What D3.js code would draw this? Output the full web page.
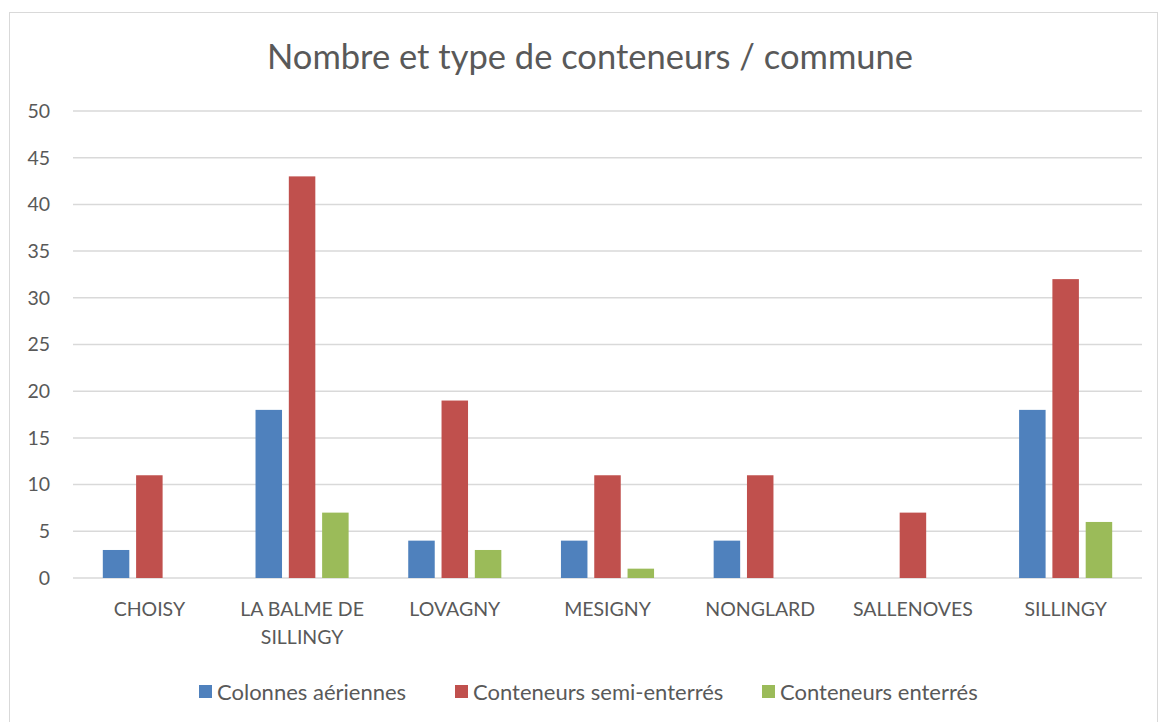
<!DOCTYPE html>
<html>
<head>
<meta charset="utf-8">
<script src="https://cdn.jsdelivr.net/npm/d3@7"></script>
<style>
  body { margin: 0; background: #fff; }
  text { font-family: Lato, "Open Sans", sans-serif; fill: #595959; }
</style>
</head>
<body>
<svg width="1160" height="722"></svg>
<script>
var communes = ["CHOISY", "LA BALME DE SILLINGY", "LOVAGNY", "MESIGNY", "NONGLARD", "SALLENOVES", "SILLINGY"];
var seriesNames = ["Colonnes aériennes", "Conteneurs semi-enterrés", "Conteneurs enterrés"];
var colonnes = [3, 18, 4, 4, 4, 0, 18];
var semiEnterres = [11, 43, 19, 11, 11, 7, 32];
var enterres = [0, 7, 3, 1, 0, 0, 6];
var colors = ["#4f81bd", "#c0504d", "#9bbb59"];
var yTicks = d3.range(0, 51, 5);

var values = [colonnes, semiEnterres, enterres];

var svg = d3.select("svg"),
    margin = {top: 111, right: 18, bottom: 144, left: 73},
    width = +svg.attr("width") - margin.left - margin.right,
    height = +svg.attr("height") - margin.top - margin.bottom;

// chart border
svg.append("rect")
    .attr("x", 9.5).attr("y", 12.5)
    .attr("width", 1148).attr("height", 720)
    .attr("fill", "none").attr("stroke", "#d9d9d9");

svg.append("text")
    .attr("x", 590).attr("y", 69)
    .attr("text-anchor", "middle")
    .style("font-size", "34.5px")
    .text("Nombre et type de conteneurs / commune");

var g = svg.append("g").attr("transform", "translate(" + margin.left + "," + margin.top + ")");

var x = d3.scaleBand().domain(communes).range([0, width]);
var y = d3.scaleLinear().domain([0, 50]).range([height, 0]);

var barW = 26.5, step = 33.3;

g.append("g")
  .selectAll("line")
  .data(yTicks)
  .enter().append("line")
    .attr("x1", 0).attr("x2", width)
    .attr("y1", function(d) { return y(d); })
    .attr("y2", function(d) { return y(d); })
    .attr("stroke", "#d9d9d9")
    .attr("stroke-width", 1.5);

g.append("g")
  .selectAll("text")
  .data(yTicks)
  .enter().append("text")
    .attr("x", -23)
    .attr("y", function(d) { return y(d); })
    .attr("dy", "0.35em")
    .attr("text-anchor", "end")
    .style("font-size", "19.5px")
    .text(function(d) { return d; });

values.forEach(function(vals, s) {
  g.append("g")
    .selectAll("rect")
    .data(vals)
    .enter().append("rect")
      .attr("x", function(d, i) { return x(communes[i]) + x.bandwidth() / 2 + (s - 1) * step - barW / 2; })
      .attr("y", function(d) { return y(d); })
      .attr("width", barW)
      .attr("height", function(d) { return height - y(d); })
      .attr("fill", colors[s]);
});

// category labels, wrapped like the original
var labels = g.append("g")
  .selectAll("text")
  .data(communes)
  .enter().append("text")
    .attr("text-anchor", "middle")
    .attr("transform", function(d) { return "translate(" + (x(d) + x.bandwidth() / 2) + "," + (height + 38) + ")"; })
    .style("font-size", "19.5px");

labels.each(function(d) {
  var lines = d === "LA BALME DE SILLINGY" ? ["LA BALME DE", "SILLINGY"] : [d];
  d3.select(this).selectAll("tspan")
    .data(lines)
    .enter().append("tspan")
      .attr("x", 0)
      .attr("dy", function(l, i) { return i ? 28 : 0; })
      .text(function(l) { return l; });
});

// legend
var legendX = [199, 455, 762];
var legend = svg.append("g").selectAll("g")
  .data(seriesNames)
  .enter().append("g")
    .attr("transform", function(d, i) { return "translate(" + legendX[i] + ",685)"; });

legend.append("rect")
  .attr("width", 13).attr("height", 13)
  .attr("fill", function(d, i) { return colors[i]; });

legend.append("text")
  .attr("x", 18).attr("y", 7)
  .attr("dy", "0.35em")
  .style("font-size", "22px")
  .text(function(d) { return d; });
</script>
</body>
</html>
